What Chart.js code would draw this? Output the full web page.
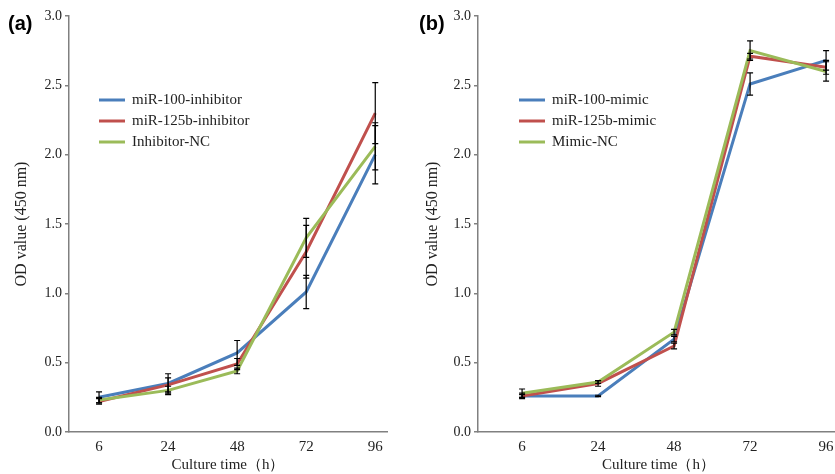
<!DOCTYPE html>
<html>
<head>
<meta charset="utf-8">
<script src="https://cdn.jsdelivr.net/npm/chart.js@4.4.1/dist/chart.umd.min.js"></script>
<style>
    html, body { margin: 0; padding: 0; background: #fff; overflow: hidden; width: 835px; height: 474px; }
    .panel { position: absolute; top: 0; }
    .tag { position: absolute; font-family: "Liberation Sans", Arial, sans-serif; font-weight: bold; font-size: 20px; }
</style>
</head>
<body>
<div class="panel" style="left:0"><canvas id="chart-a" width="415" height="474"></canvas></div>
<div class="panel" style="left:415px"><canvas id="chart-b" width="452" height="474"></canvas></div>
<div class="tag" style="left:8px; top:12px">(a)</div>
<div class="tag" style="left:419px; top:12px">(b)</div>
<script>
// culture time categories (h)
const times = ["6", "24", "48", "72", "96"];
const yTicks = [0, 0.5, 1.0, 1.5, 2.0, 2.5, 3.0];

// panel (a) - inhibitors
const inh100 = [0.25, 0.35, 0.57, 1.01, 2.00];
const inh125b = [0.22, 0.34, 0.49, 1.30, 2.30];
const inhNC = [0.23, 0.30, 0.44, 1.40, 2.06];
const inh100Err = [0.04, 0.07, 0.09, 0.12, 0.21];
const inh125bErr = [0.02, 0.05, 0.04, 0.19, 0.22];
const inhNCErr = [0.02, 0.03, 0.02, 0.14, 0.17];

// panel (b) - mimics
const mim100 = [0.26, 0.26, 0.67, 2.51, 2.68];
const mim125b = [0.26, 0.35, 0.62, 2.71, 2.63];
const mimNC = [0.28, 0.36, 0.72, 2.75, 2.60];
const mim100Err = [0.01, 0.005, 0.02, 0.08, 0.07];
const mim125bErr = [0.02, 0.02, 0.02, 0.02, 0.05];
const mimNCErr = [0.03, 0.01, 0.02, 0.07, 0.07];

const blue = "#4A7EBB";
const red = "#C0504D";
const green = "#9BBB59";
const axisGrey = "#808080";
const serif = "'Liberation Serif', 'Times New Roman', serif";

// error bars drawn on top of the lines
const errorBars = {
    id: "errorBars",
    afterDatasetsDraw(chart) {
        const ctx = chart.ctx;
        const xs = chart.scales.x, ys = chart.scales.y;
        ctx.save();
        ctx.strokeStyle = "#000";
        ctx.lineWidth = 1.2;
        chart.data.datasets.forEach(ds => {
            ds.data.forEach((p, i) => {
                const e = ds.errors[i];
                const px = xs.getPixelForValue(p.x);
                const top = ys.getPixelForValue(p.y + e);
                const bot = ys.getPixelForValue(p.y - e);
                ctx.beginPath();
                ctx.moveTo(px, top); ctx.lineTo(px, bot);
                ctx.moveTo(px - 3, top); ctx.lineTo(px + 3, top);
                ctx.moveTo(px - 3, bot); ctx.lineTo(px + 3, bot);
                ctx.stroke();
            });
        });
        ctx.restore();
    }
};

// legend inside the plot area
const seriesKey = {
    id: "seriesKey",
    afterDraw(chart, args, opts) {
        const ctx = chart.ctx;
        const x0 = chart.chartArea.left + opts.left;
        ctx.save();
        ctx.font = "15px " + serif;
        ctx.textBaseline = "middle";
        chart.data.datasets.forEach((ds, i) => {
            const y = opts.top + i * 21;
            ctx.strokeStyle = ds.borderColor;
            ctx.lineWidth = 3;
            ctx.beginPath();
            ctx.moveTo(x0, y); ctx.lineTo(x0 + 26, y);
            ctx.stroke();
            ctx.fillStyle = "#222";
            ctx.fillText(ds.label, x0 + opts.gap, y);
        });
        ctx.restore();
    }
};

function makeSet(label, values, errors, colour, order) {
    return {
        label: label,
        data: values.map((v, i) => ({ x: i, y: v })),
        errors: errors,
        borderColor: colour,
        backgroundColor: colour,
        borderWidth: 3,
        pointRadius: 0,
        tension: 0,
        order: order
    };
}

function makeChart(id, datasets, xMin, xMax, yAxisWidth, rightPad, key) {
    const canvas = document.getElementById(id);
    return new Chart(canvas.getContext("2d"), {
        type: "line",
        data: { datasets: datasets },
        options: {
            responsive: false,
            animation: false,
            layout: { padding: { top: 16, right: rightPad, left: 0, bottom: 0 } },
            plugins: {
                legend: { display: false },
                tooltip: { enabled: false },
                seriesKey: key
            },
            scales: {
                x: {
                    type: "linear",
                    min: xMin,
                    max: xMax,
                    afterBuildTicks: s => { s.ticks = times.map((t, i) => ({ value: i })); },
                    afterFit: s => { s.height = 42; },
                    grid: { display: false, drawTicks: false },
                    border: { display: true, color: axisGrey, width: 1.5 },
                    ticks: {
                        callback: v => times[v],
                        color: "#222",
                        padding: 6,
                        maxRotation: 0,
                        font: { family: serif, size: 15 }
                    },
                    title: {
                        display: true,
                        text: "Culture time（h）",
                        color: "#222",
                        padding: { top: 0, bottom: 0 },
                        font: { family: serif, size: 15 }
                    }
                },
                y: {
                    min: 0,
                    max: 3,
                    afterBuildTicks: s => { s.ticks = yTicks.map(v => ({ value: v })); },
                    afterFit: s => { s.width = yAxisWidth; },
                    grid: { drawOnChartArea: false, tickLength: 4, color: axisGrey, lineWidth: 1.5 },
                    border: { display: true, color: axisGrey, width: 1.5 },
                    ticks: {
                        callback: v => v.toFixed(1),
                        color: "#222",
                        padding: 3,
                        font: { family: serif, size: 14 }
                    },
                    title: {
                        display: true,
                        text: "OD value (450 nm)",
                        color: "#222",
                        padding: { top: key.titlePad, bottom: 0 },
                        font: { family: serif, size: 16 }
                    }
                }
            }
        },
        plugins: [errorBars, seriesKey]
    });
}

window.addEventListener("DOMContentLoaded", () => {

    makeChart("chart-a", [
        makeSet("miR-100-inhibitor", inh100, inh100Err, blue, 2),
        makeSet("miR-125b-inhibitor", inh125b, inh125bErr, red, 1),
        makeSet("Inhibitor-NC", inhNC, inhNCErr, green, 0)
    ], -0.435, 4.17, 69, 28, { left: 30, top: 100, gap: 33, titlePad: 12 });

    makeChart("chart-b", [
        makeSet("miR-100-mimic", mim100, mim100Err, blue, 2),
        makeSet("miR-125b-mimic", mim125b, mim125bErr, red, 1),
        makeSet("Mimic-NC", mimNC, mimNCErr, green, 0)
    ], -0.58, 4.17, 63, 28, { left: 41, top: 100, gap: 33, titlePad: 8 });
})
</script>
</body>
</html>
